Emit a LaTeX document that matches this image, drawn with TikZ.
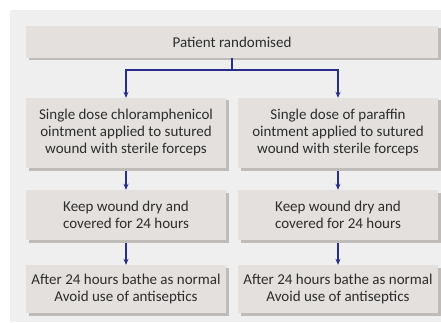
\documentclass[tikz,border=0pt]{standalone}
\usepackage{fontspec}
\setmainfont{Carlito}
\usetikzlibrary{arrows.meta, shadows}
\definecolor{panelgray}{RGB}{240, 239, 240}
\definecolor{boxgray}{RGB}{227, 224, 221}
\definecolor{shadegray}{RGB}{190, 187, 185}
\definecolor{textgray}{RGB}{45, 45, 45}
\definecolor{flowblue}{RGB}{40, 45, 140}

\begin{document}
\begin{tikzpicture}[x=1pt, y=-1pt,
  box/.style={fill=boxgray, align=center, inner sep=2pt, text=textgray,
    font=\fontsize{15}{17}\selectfont,
    drop shadow={shadow xshift=2.5pt, shadow yshift=-2.5pt, fill=shadegray, opacity=1}},
  arrow/.style={-{Stealth[length=6pt, width=5pt]}, line width=1.4pt, flowblue}
]
  \useasboundingbox (0,0) rectangle (441,323);
  \fill[panelgray] (10,10) rectangle (441,322);
  % top
  \node[box, minimum width=412pt, minimum height=32pt] (rand) at (232, 42) {Patient randomised};
  % chloramphenicol arm
  \node[box, minimum width=200pt, minimum height=70pt] (chlor) at (126, 133) {
    Single dose chloramphenicol\\
    ointment applied to sutured\\
    wound with sterile forceps
  };
  \node[box, minimum width=200pt, minimum height=50pt] (chldry) at (126, 215) {
    Keep wound dry and\\
    covered for 24 hours
  };
  \node[box, minimum width=200pt, minimum height=48pt] (chlbathe) at (126, 289) {
    After 24 hours bathe as normal\\
    Avoid use of antiseptics
  };
  % paraffin arm
  \node[box, minimum width=200pt, minimum height=70pt] (para) at (338, 133) {
    Single dose of paraffin\\
    ointment applied to sutured\\
    wound with sterile forceps
  };
  \node[box, minimum width=200pt, minimum height=50pt] (pardry) at (338, 215) {
    Keep wound dry and\\
    covered for 24 hours
  };
  \node[box, minimum width=200pt, minimum height=48pt] (parbathe) at (338, 289) {
    After 24 hours bathe as normal\\
    Avoid use of antiseptics
  };
  % connectors
  \coordinate (split) at (232, 70);
  \draw[line width=1.4pt, flowblue] (rand.south) -- (split);
  \draw[arrow] (split) -| (chlor.north);
  \draw[arrow] (split) -| (para.north);
  \draw[arrow] ([yshift=-3pt]chlor.south) -- (chldry.north);
  \draw[arrow] ([yshift=-3pt]para.south) -- (pardry.north);
  \draw[arrow] ([yshift=-3pt]chldry.south) -- (chlbathe.north);
  \draw[arrow] ([yshift=-3pt]pardry.south) -- (parbathe.north);
\end{tikzpicture}
\end{document}
